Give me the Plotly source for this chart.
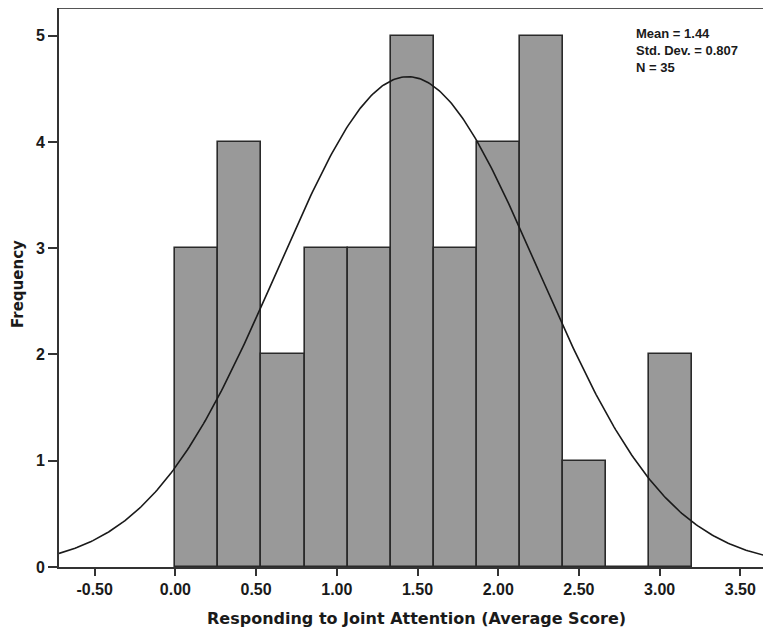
import numpy as np
import plotly.graph_objects as go

# ---- data ----
bin_start = 0.0
bin_width = 3.2 / 12
counts = [3, 4, 2, 3, 3, 5, 3, 4, 5, 1, 0, 2]
mean_val = 1.44
sd_val = 0.807
n_val = 35
x_tick_vals = [-0.5, 0.0, 0.5, 1.0, 1.5, 2.0, 2.5, 3.0, 3.5]
x_tick_text = ["-0.50", "0.00", "0.50", "1.00", "1.50", "2.00", "2.50", "3.00", "3.50"]
y_tick_vals = [0, 1, 2, 3, 4, 5]
stats_lines = [f"Mean = {mean_val}", f"Std. Dev. = {sd_val}", f"N = {n_val}"]

x_range = [-0.721, 3.69]
y_range = [0, 5.26]

centers = [bin_start + bin_width * (i + 0.5) for i in range(len(counts))]

# normal curve scaled to histogram (from the reported mean / sd / N)
xs = np.linspace(x_range[0], x_range[1], 400)
ys = n_val * bin_width * np.exp(-0.5 * ((xs - mean_val) / sd_val) ** 2) / (sd_val * np.sqrt(2 * np.pi))

arial = "Liberation Sans, Arial, sans-serif"
wide = "DejaVu Sans, Verdana, sans-serif"
txt = "#1a1a1a"

# the page body adds an 8px margin; figure is sized to fit the 771x637 window
OFF = 8
W, H = 771 - OFF, 637 - OFF
L, T = 59 - OFF, 8 - OFF
plot_bottom = 567 - OFF
B = H - plot_bottom
pw, ph = W - L, plot_bottom - T


def px(xp):
    return (xp - OFF - L) / pw


def py(yp):
    return (plot_bottom - (yp - OFF)) / ph


fig = go.Figure()
fig.add_trace(go.Bar(
    x=centers, y=counts, width=bin_width,
    marker=dict(color="#999999", line=dict(color="#2a2a2a", width=1.6)),
    hoverinfo="x+y",
))
fig.add_trace(go.Scatter(
    x=xs, y=ys, mode="lines",
    line=dict(color="#1a1a1a", width=1.6),
    hoverinfo="skip",
))

annotations = [
    dict(
        xref="paper", yref="paper", x=px(635), y=py(51),
        xanchor="left", yanchor="middle", align="left", showarrow=False,
        borderpad=0,
        text="<b>" + "<br>".join(stats_lines) + "</b>",
        font=dict(size=13, family=arial, color=txt),
    ),
    dict(
        xref="paper", yref="paper", x=px(417), y=py(618),
        xanchor="center", yanchor="middle", showarrow=False,
        text="<b>Responding to Joint Attention (Average Score)</b>",
        font=dict(size=16, family=wide, color=txt),
    ),
    dict(
        xref="paper", yref="paper", x=px(18), y=py(284),
        xanchor="center", yanchor="middle", showarrow=False, textangle=-90,
        text="<b>Frequency</b>",
        font=dict(size=15, family=wide, color=txt),
    ),
]

fig.update_layout(
    width=W, height=H,
    margin=dict(l=L, r=0, t=T, b=B, autoexpand=False),
    plot_bgcolor="white", paper_bgcolor="white",
    showlegend=False,
    bargap=0,
    font=dict(family=arial, color=txt),
    xaxis=dict(
        range=x_range, tickvals=x_tick_vals, ticktext=x_tick_text,
        showgrid=False, zeroline=False, automargin=False,
        showline=True, linecolor="#333333", linewidth=2,
        ticks="outside", ticklen=7, tickwidth=2, tickcolor="#333333",
        tickfont=dict(size=16, family=arial, color=txt, weight="bold"),
    ),
    yaxis=dict(
        range=y_range, tickvals=y_tick_vals,
        showgrid=False, zeroline=False, automargin=False,
        showline=True, linecolor="#333333", linewidth=2,
        ticks="outside", ticklen=9, tickwidth=2, tickcolor="#333333",
        tickfont=dict(size=16, family=arial, color=txt, weight="bold"),
    ),
    shapes=[dict(type="line", xref="paper", yref="paper", x0=0, x1=1, y0=1, y1=1,
                 line=dict(color="#555555", width=2))],
    annotations=annotations,
)

fig.write_html("out.html")
